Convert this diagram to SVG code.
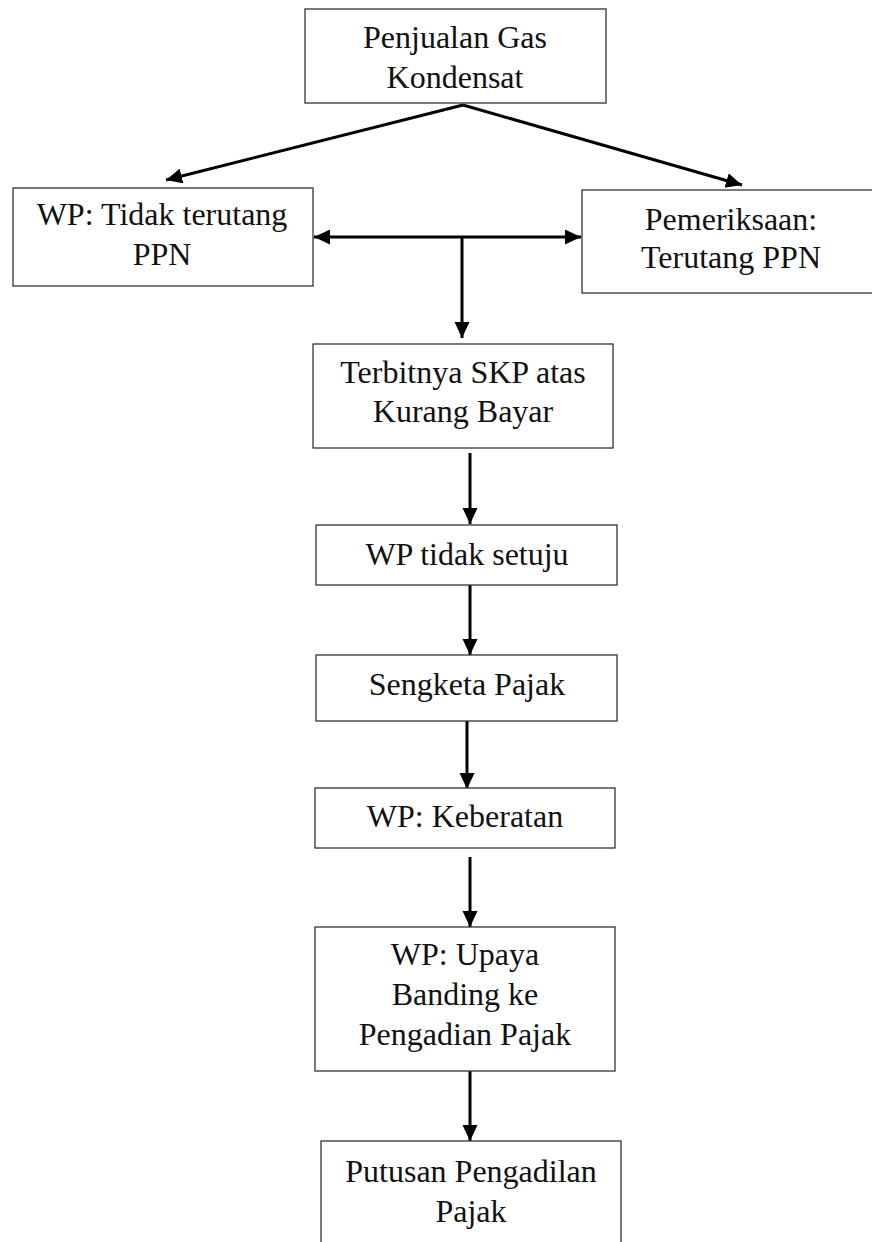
<svg xmlns="http://www.w3.org/2000/svg" width="872" height="1242" viewBox="0 0 872 1242">
<style>
.box{fill:#fff;stroke:#333;stroke-width:1.3}
.t{font-family:"Liberation Serif","Times New Roman",serif;font-size:32px;fill:#111;text-anchor:middle}
.c{stroke:#000;stroke-width:3;fill:none}
</style>
<defs>
<marker id="ah" markerUnits="userSpaceOnUse" markerWidth="18" markerHeight="16" refX="16" refY="7.5" orient="auto">
<path d="M0,0 L16,7.5 L0,15 Z" fill="#000"/>
</marker>
<marker id="as" markerUnits="userSpaceOnUse" markerWidth="18" markerHeight="16" refX="0" refY="7.5" orient="auto">
<path d="M16,0 L0,7.5 L16,15 Z" fill="#000"/>
</marker>
</defs>
<rect width="872" height="1242" fill="#fff"/>
<g id="connectors">
<path class="c" d="M463,105 L166,180" marker-end="url(#ah)"/>
<path class="c" d="M463,105 L742,185" marker-end="url(#ah)"/>
<path class="c" d="M314,237 L581,237" marker-start="url(#as)" marker-end="url(#ah)"/>
<path class="c" d="M462,237 L462,338" marker-end="url(#ah)"/>
<path class="c" d="M470,453 L470,524" marker-end="url(#ah)"/>
<path class="c" d="M470,585 L470,655" marker-end="url(#ah)"/>
<path class="c" d="M467,721 L467,789" marker-end="url(#ah)"/>
<path class="c" d="M470,857 L470,927" marker-end="url(#ah)"/>
<path class="c" d="M470,1071 L470,1141" marker-end="url(#ah)"/>
</g>
<g id="n1"><rect class="box" x="305" y="9" width="301" height="94"/>
<text class="t" x="455" y="48">Penjualan Gas</text><text class="t" x="455" y="88">Kondensat</text></g>
<g id="n2"><rect class="box" x="13" y="188" width="300" height="98"/>
<text class="t" x="162" y="225">WP: Tidak terutang</text><text class="t" x="162" y="265">PPN</text></g>
<g id="n3"><rect class="box" x="582" y="190" width="300" height="103"/>
<text class="t" x="731" y="230">Pemeriksaan:</text><text class="t" x="731" y="268">Terutang PPN</text></g>
<g id="n4"><rect class="box" x="313" y="344" width="300" height="104"/>
<text class="t" x="463" y="383">Terbitnya SKP atas</text><text class="t" x="463" y="422">Kurang Bayar</text></g>
<g id="n5"><rect class="box" x="316" y="525" width="301" height="60"/>
<text class="t" x="467" y="565">WP tidak setuju</text></g>
<g id="n6"><rect class="box" x="316" y="655" width="301" height="66"/>
<text class="t" x="467" y="695">Sengketa Pajak</text></g>
<g id="n7"><rect class="box" x="315" y="788" width="300" height="60"/>
<text class="t" x="465" y="827">WP: Keberatan</text></g>
<g id="n8"><rect class="box" x="315" y="927" width="300" height="144"/>
<text class="t" x="465" y="965">WP: Upaya</text><text class="t" x="465" y="1005">Banding ke</text><text class="t" x="465" y="1045">Pengadian Pajak</text></g>
<g id="n9"><rect class="box" x="321" y="1141" width="300" height="110"/>
<text class="t" x="471" y="1182">Putusan Pengadilan</text><text class="t" x="471" y="1222">Pajak</text></g>
</svg>
